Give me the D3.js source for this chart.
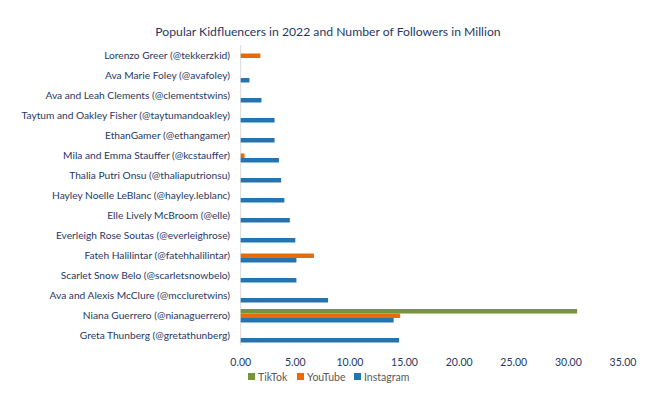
<!DOCTYPE html>
<html>
<head>
<meta charset="utf-8">
<script src="https://cdn.jsdelivr.net/npm/d3@7"></script>
<style>
  body { margin: 0; background: #fff; }
  text { font-family: Lato, "Open Sans", sans-serif; fill: #1f3864; }
</style>
</head>
<body>
<svg id="chart" width="651" height="399"></svg>
<script>
const names = [
  "Lorenzo Greer (@tekkerzkid)",
  "Ava Marie Foley (@avafoley)",
  "Ava and Leah Clements (@clementstwins)",
  "Taytum and Oakley Fisher (@taytumandoakley)",
  "EthanGamer (@ethangamer)",
  "Mila and Emma Stauffer (@kcstauffer)",
  "Thalia Putri Onsu (@thaliaputrionsu)",
  "Hayley Noelle LeBlanc (@hayley.leblanc)",
  "Elle Lively McBroom (@elle)",
  "Everleigh Rose Soutas (@everleighrose)",
  "Fateh Halilintar (@fatehhalilintar)",
  "Scarlet Snow Belo (@scarletsnowbelo)",
  "Ava and Alexis McClure (@mccluretwins)",
  "Niana Guerrero (@nianaguerrero)",
  "Greta Thunberg (@gretathunberg)"
];
const tiktok    = [0, 0, 0, 0, 0, 0, 0, 0, 0, 0, 0, 0, 0, 30.8, 0];
const youtube   = [1.8, 0, 0, 0, 0, 0.35, 0, 0, 0, 0, 6.7, 0, 0, 14.6, 0];
const instagram = [0, 0.8, 1.9, 3.1, 3.1, 3.5, 3.7, 4.0, 4.5, 5.0, 5.1, 5.1, 8.0, 14.0, 14.5];
const seriesNames = ["TikTok", "YouTube", "Instagram"];
const seriesColors = ["#77933c", "#e46c0a", "#2474b2"];
const xTicks = [0, 5, 10, 15, 20, 25, 30, 35];

const svg = d3.select("#chart");
const x = d3.scaleLinear().domain([0, 35]).range([240.7, 623]);
const y = d3.scaleBand().domain(names).range([45, 345]);
const inner = d3.scaleBand().domain(seriesNames).range([4, 17.5]);

const rows = names.map((n, i) => ({
  name: n,
  vals: [tiktok[i], youtube[i], instagram[i]]
}));

svg.append("text")
  .attr("x", 328).attr("y", 36)
  .attr("text-anchor", "middle")
  .style("font-size", "12.2px")
  .text("Popular Kidfluencers in 2022 and Number of Followers in Million");

// category axis line
svg.append("line")
  .attr("x1", x(0)).attr("x2", x(0))
  .attr("y1", 45).attr("y2", 345)
  .attr("stroke", "#d9d9d9");

const g = svg.selectAll("g.row").data(rows).join("g")
  .attr("class", "row")
  .attr("transform", d => `translate(0,${y(d.name)})`);

g.selectAll("rect").data(d => d.vals.map((v, j) => ({ v, s: seriesNames[j], c: seriesColors[j] })))
  .join("rect")
  .filter(d => d.v > 0)
  .attr("x", x(0))
  .attr("y", d => inner(d.s))
  .attr("width", d => x(d.v) - x(0))
  .attr("height", inner.bandwidth())
  .attr("fill", d => d.c);

g.append("text")
  .attr("x", 230)
  .attr("y", y.bandwidth() / 2)
  .attr("dy", "0.35em")
  .attr("text-anchor", "end")
  .style("font-size", "10.2px")
  .text(d => d.name);

svg.selectAll("text.tick").data(xTicks).join("text")
  .attr("class", "tick")
  .attr("x", d => x(d))
  .attr("y", 366)
  .attr("text-anchor", "middle")
  .style("font-size", "10.5px")
  .text(d => d.toFixed(2));

const legendX = [248, 297, 354];
const lg = svg.selectAll("g.leg").data(seriesNames).join("g")
  .attr("class", "leg")
  .attr("transform", (d, i) => `translate(${legendX[i]},373)`);
lg.append("rect").attr("width", 7).attr("height", 7)
  .attr("fill", (d, i) => seriesColors[i]);
lg.append("text").attr("x", 10).attr("y", 7.5)
  .style("font-size", "10.5px")
  .style("fill", "#595959")
  .text(d => d);
</script>
</body>
</html>
